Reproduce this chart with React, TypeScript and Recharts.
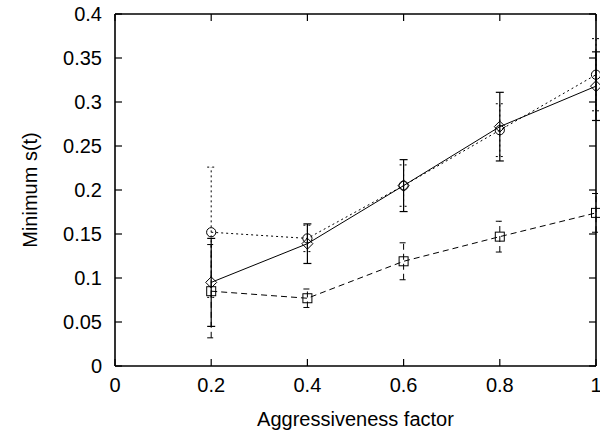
import React from 'react';
import { LineChart, Line, XAxis, YAxis, ErrorBar } from 'recharts';

const xValues = [0.2, 0.4, 0.6, 0.8, 1.0];
const circleValues = [0.152, 0.145, 0.205, 0.268, 0.331];
const circleErrors = [0.074, 0.015, 0.0235, 0.03, 0.041];
const diamondValues = [0.095, 0.139, 0.205, 0.272, 0.318];
const diamondErrors = [0.05, 0.0225, 0.0295, 0.039, 0.039];
const squareValues = [0.085, 0.077, 0.119, 0.147, 0.174];
const squareErrors = [0.053, 0.0105, 0.021, 0.0175, 0.022];

const xTicks = [0, 0.2, 0.4, 0.6, 0.8, 1];
const xTickLabels = ['0', '0.2', '0.4', '0.6', '0.8', '1'];
const yTicks = [0, 0.05, 0.1, 0.15, 0.2, 0.25, 0.3, 0.35, 0.4];
const yTickLabels = ['0', '0.05', '0.1', '0.15', '0.2', '0.25', '0.3', '0.35', '0.4'];

const data = xValues.map((x, i) => ({
  x,
  circle: circleValues[i],
  circleErr: circleErrors[i],
  diamond: diamondValues[i],
  diamondErr: diamondErrors[i],
  square: squareValues[i],
  squareErr: squareErrors[i],
}));

const FONT = '"Liberation Sans", Arial, Helvetica, sans-serif';
const TICK_LEN = 7;

const BottomTick = (p: any) => {
  const label = xTickLabels[xTicks.indexOf(p.payload.value)] ?? String(p.payload.value);
  return (
    <g>
      <line x1={p.x} x2={p.x} y1={p.y} y2={p.y - TICK_LEN} stroke="#000" strokeWidth={1.2} />
      <text x={p.x} y={p.y + 12} dy="0.71em" textAnchor="middle" fontSize={20} fill="#000" fontFamily={FONT}>
        {label}
      </text>
    </g>
  );
};
const TopTick = (p: any) => (
  <line x1={p.x} x2={p.x} y1={p.y} y2={p.y + TICK_LEN} stroke="#000" strokeWidth={1.2} />
);
const LeftTick = (p: any) => {
  const label = yTickLabels[yTicks.indexOf(p.payload.value)] ?? String(p.payload.value);
  return (
    <g>
      <line x1={p.x} x2={p.x + TICK_LEN} y1={p.y} y2={p.y} stroke="#000" strokeWidth={1.2} />
      <text x={p.x - 13} y={p.y} dy="0.355em" textAnchor="end" fontSize={20} fill="#000" fontFamily={FONT}>
        {label}
      </text>
    </g>
  );
};
const RightTick = (p: any) => (
  <line x1={p.x} x2={p.x - TICK_LEN} y1={p.y} y2={p.y} stroke="#000" strokeWidth={1.2} />
);

const CircleDot = (p: any) => (
  <circle key={`c-${p.index}`} cx={p.cx} cy={p.cy} r={4.6} fill="none" stroke="#000" strokeWidth={1} />
);
const DiamondDot = (p: any) => (
  <path
    key={`d-${p.index}`}
    d={`M${p.cx},${p.cy - 5.5} L${p.cx + 5.5},${p.cy} L${p.cx},${p.cy + 5.5} L${p.cx - 5.5},${p.cy} Z`}
    fill="none"
    stroke="#000"
    strokeWidth={1}
  />
);
const SquareDot = (p: any) => (
  <rect key={`s-${p.index}`} x={p.cx - 4.5} y={p.cy - 4.5} width={9} height={9} fill="none" stroke="#000" strokeWidth={1} />
);

export default function App() {
  return (
    <div style={{ position: 'absolute', left: 0, top: 0 }}>
      <LineChart width={600} height={432} data={data} margin={{ top: 13, right: 3, bottom: 0, left: 0 }}>
        <XAxis
          dataKey="x"
          type="number"
          domain={[0, 1]}
          ticks={xTicks}
          height={66}
          tick={BottomTick}
          tickLine={false}
          tickSize={0}
          tickMargin={0}
          stroke="#000"
          strokeWidth={1.6}
          interval={0}
          label={{ value: 'Aggressiveness factor', position: 'insideBottom', offset: 6, style: { fontSize: 20, fill: '#000', fontFamily: FONT } }}
        />
        <XAxis
          xAxisId="top"
          orientation="top"
          dataKey="x"
          type="number"
          domain={[0, 1]}
          ticks={xTicks}
          height={1}
          tick={TopTick}
          tickLine={false}
          tickSize={0}
          tickMargin={0}
          stroke="#000"
          strokeWidth={1.6}
          interval={0}
        />
        <YAxis
          type="number"
          domain={[0, 0.4]}
          ticks={yTicks}
          width={115}
          tick={LeftTick}
          tickLine={false}
          tickSize={0}
          tickMargin={0}
          stroke="#000"
          strokeWidth={1.6}
          interval={0}
          label={{ value: 'Minimum s(t)', angle: -90, position: 'insideLeft', offset: 30, style: { fontSize: 20, fill: '#000', fontFamily: FONT, textAnchor: 'middle' } }}
        />
        <YAxis
          yAxisId="right"
          orientation="right"
          type="number"
          domain={[0, 0.4]}
          ticks={yTicks}
          width={1}
          tick={RightTick}
          tickLine={false}
          tickSize={0}
          tickMargin={0}
          stroke="#000"
          strokeWidth={1.6}
          interval={0}
        />
        <Line
          xAxisId="top"
          yAxisId="right"
          dataKey="circle"
          stroke="none"
          dot={false}
          activeDot={false}
          legendType="none"
          isAnimationActive={false}
        />
        <Line
          dataKey="circle"
          stroke="#000"
          strokeWidth={1}
          strokeDasharray="2 3"
          dot={CircleDot}
          activeDot={false}
          isAnimationActive={false}
        >
          <ErrorBar dataKey="circleErr" direction="y" width={4} stroke="#000" strokeWidth={1} strokeDasharray="2 3" />
        </Line>
        <Line
          dataKey="diamond"
          stroke="#000"
          strokeWidth={1}
          dot={DiamondDot}
          activeDot={false}
          isAnimationActive={false}
        >
          <ErrorBar dataKey="diamondErr" direction="y" width={4} stroke="#000" strokeWidth={1.2} />
        </Line>
        <Line
          dataKey="square"
          stroke="#000"
          strokeWidth={1}
          strokeDasharray="6 4"
          dot={SquareDot}
          activeDot={false}
          isAnimationActive={false}
        >
          <ErrorBar dataKey="squareErr" direction="y" width={4} stroke="#000" strokeWidth={1} strokeDasharray="6 4" />
        </Line>
      </LineChart>
    </div>
  );
}
